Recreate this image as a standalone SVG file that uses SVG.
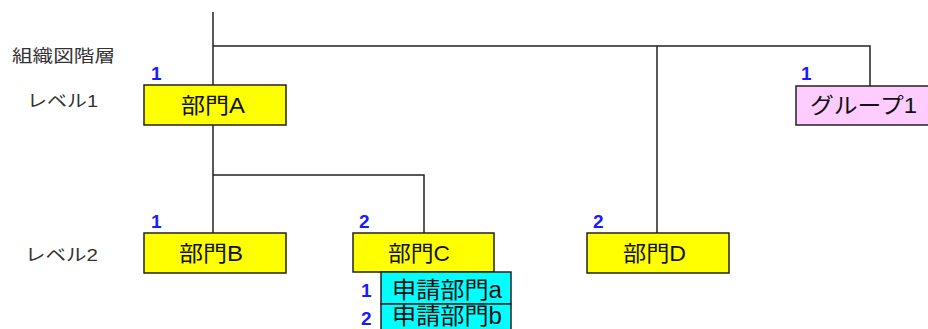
<svg xmlns="http://www.w3.org/2000/svg" width="928" height="329" viewBox="0 0 928 329">
<style>
.bg{fill:#ffffff}
.line{stroke:#222;stroke-width:1.5;fill:none}
.box{stroke:#222;stroke-width:1.5}
.yellow{fill:#ffff00}
.cyan{fill:#00ffff}
.pink{fill:#ffccff}
.lbl{font-family:"Liberation Sans","Noto Sans CJK JP",sans-serif;font-size:22px;fill:#111}
.sub{font-size:23px}
.lvl{font-family:"Liberation Sans","Noto Sans CJK JP",sans-serif;font-size:17px;fill:#333}
.num{font-family:"Liberation Sans",Arial,sans-serif;font-size:19px;font-weight:bold;fill:#1a1aff}
</style>
<rect class="bg" x="0" y="0" width="928" height="329"/>
<g id="levels">
<text class="lvl" x="12" y="62" textLength="103" lengthAdjust="spacingAndGlyphs">組織図階層</text>
<text class="lvl" x="27" y="107" textLength="71" lengthAdjust="spacingAndGlyphs">レベル1</text>
<text class="lvl" x="25" y="261" textLength="73" lengthAdjust="spacingAndGlyphs">レベル2</text>
</g>
<g id="connectors">
<path class="line" d="M213,12 V85"/>
<path class="line" d="M213,46 H870 V86"/>
<path class="line" d="M657,46 V233"/>
<path class="line" d="M213,125 V233"/>
<path class="line" d="M213,175 H424 V233"/>
</g>
<g id="nodeA">
<text class="num" x="151" y="80">1</text>
<rect class="box yellow" x="144" y="85" width="142" height="40"/>
<text class="lbl" x="181" y="113" textLength="64" lengthAdjust="spacingAndGlyphs">部門A</text>
</g>
<g id="group1">
<text class="num" x="801" y="80">1</text>
<rect class="box pink" x="796" y="86" width="140" height="39"/>
<text class="lbl" x="810" y="113" textLength="107" lengthAdjust="spacingAndGlyphs">グループ1</text>
</g>
<g id="nodeB">
<text class="num" x="151" y="228">1</text>
<rect class="box yellow" x="144" y="233" width="142" height="40"/>
<text class="lbl" x="179" y="261" textLength="64" lengthAdjust="spacingAndGlyphs">部門B</text>
</g>
<g id="nodeC">
<text class="num" x="359" y="228">2</text>
<rect class="box yellow" x="353" y="233" width="141" height="39"/>
<text class="lbl" x="388" y="261" textLength="62" lengthAdjust="spacingAndGlyphs">部門C</text>
</g>
<g id="nodeD">
<text class="num" x="593" y="228">2</text>
<rect class="box yellow" x="587" y="233" width="142" height="40"/>
<text class="lbl" x="623" y="261" textLength="63" lengthAdjust="spacingAndGlyphs">部門D</text>
</g>
<g id="subA">
<text class="num" x="361" y="297">1</text>
<rect class="box cyan" x="381" y="272" width="130" height="32"/>
<text class="lbl sub" x="392" y="298" textLength="110" lengthAdjust="spacingAndGlyphs">申請部門a</text>
</g>
<g id="subB">
<text class="num" x="361" y="325">2</text>
<rect class="box cyan" x="381" y="304" width="130" height="32"/>
<text class="lbl sub" x="392" y="324" textLength="110" lengthAdjust="spacingAndGlyphs">申請部門b</text>
</g>
</svg>
